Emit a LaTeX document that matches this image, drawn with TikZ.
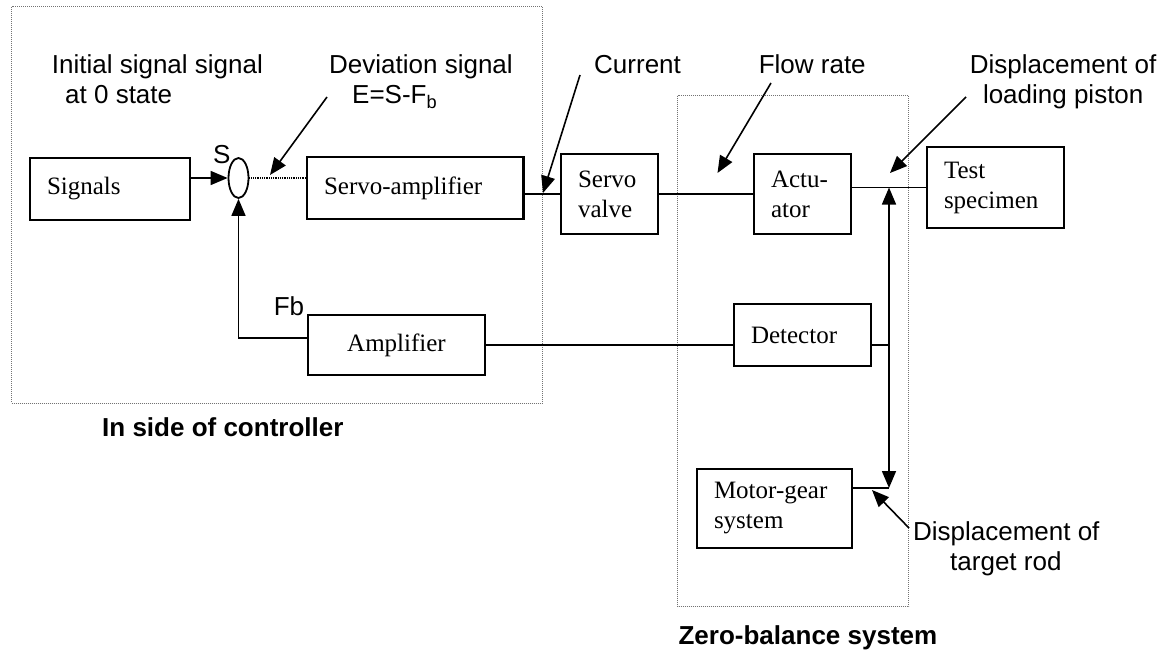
\documentclass[tikz,border=0pt]{standalone}
\usepackage{fontspec}
\setmainfont{Liberation Sans}
\newfontfamily\boxfont{Liberation Serif}
\usetikzlibrary{arrows.meta,shapes.geometric,calc}
\begin{document}
\begin{tikzpicture}[x=1pt,y=-1pt,
  lbl/.style={font=\fontsize{26}{31}\selectfont, inner sep=0pt, anchor=base west},
  blbl/.style={font=\fontsize{26}{31}\selectfont\bfseries, inner sep=0pt, anchor=base west},
  box/.style={draw, line width=2.2pt, inner xsep=17pt, inner ysep=0pt, align=left, font=\boxfont\fontsize{25}{30}\selectfont},
  conn/.style={line width=1.6pt},
  tip/.tip={Triangle[length=17pt,width=14pt]},
  arr/.style={conn, -tip},
  zone/.style={draw=black!55, line width=1pt, dash pattern=on 1pt off 1pt},
]
\fill[white] (0,0) rectangle (1165,650);
\useasboundingbox (0,0) rectangle (1165,650);

% dotted zones
\draw[zone] (11.5,7) rectangle (542.7,403);
\draw[zone] (677.6,95.7) rectangle (908.8,606.7);

% boxes
\node[box, text width=126pt, minimum height=62pt] (sig) at (110,189) {Signals};
\node[box, text width=182.5pt, minimum height=62pt] (samp) at (415.25,188) {Servo-amplifier};
\node[box, text width=143pt, minimum height=60pt, align=center] (amp) at (396.5,345) {Amplifier};
\node[box, text width=63pt, minimum height=80pt] (valve) at (609.5,194) {Servo\\valve};
\node[box, text width=63pt, minimum height=80pt] (act) at (802.5,194) {Actu-\\ator};
\node[box, text width=103pt, minimum height=81pt] (test) at (995.5,187.5) {Test\\specimen};
\node[box, text width=103pt, minimum height=62pt] (det) at (802.5,335) {Detector};
\node[box, text width=121pt, minimum height=79pt] (mg) at (774.5,508.5) {Motor-gear\\system};
\node[draw, ellipse, line width=1.8pt, minimum width=20pt, minimum height=40pt, inner sep=0pt] (sum) at (238.5,178) {};

% junctions
\coordinate (jt) at (889,187.5);
\coordinate (jb) at (889,488);

% connectors
\draw[arr] (sig.east |- sum.west) -- (sum.west);
\draw[line width=1.8pt, dash pattern=on 1pt off 0.8pt] (sum.east) -- (samp.west |- sum.east);
\draw[conn] (samp.east |- valve.west) -- (valve.west);
\draw[conn] (valve.east) -- (act.west);
\draw[conn] (act.east |- test.west) -- (test.west);
\draw[conn, tip-tip] (jt) -- (jb);
\draw[conn] (amp.east) -- (det.west |- amp.east);
\draw[conn] (det.east |- amp.east) -- (jt |- amp.east);
\draw[conn] (mg.east |- jb) -- (jb);
\draw[arr] ([yshift=7pt]amp.west) -| (sum.south);

% labels
\node[lbl] (init1) at (51.7,74) {Initial signal signal};
\node[lbl] (init2) at (65,104) {at 0 state};
\node[lbl] (dev1) at (329,74) {Deviation signal};
\node[lbl] (dev2) at (352,104) {E=S-F\textsubscript{b}};
\node[lbl] (slbl) at (213,164) {S};
\node[lbl] (fblbl) at (273.6,315) {Fb};
\node[lbl] (cur) at (594,74) {Current};
\node[lbl] (flow) at (758.6,74) {Flow rate};
\node[lbl] (lp1) at (969.7,74) {Displacement of};
\node[lbl] (lp2) at (982.8,104) {loading piston};
\node[lbl] (tr1) at (912.9,540) {Displacement of};
\node[lbl] (tr2) at (950,570) {target rod};
\node[blbl] (ctl) at (102,436.7) {In side of controller};
\node[blbl] (zbs) at (678.4,644) {Zero-balance system};

% label arrows
\coordinate (devs) at (327,97); \coordinate (devt) at (270,175);
\draw[arr] (devs) -- (devt);
\coordinate (curs) at (580,75); \coordinate (curt) at (543,193);
\draw[arr] (curs) -- (curt);
\coordinate (flows) at (771,83); \coordinate (flowt) at (717.5,173);
\draw[arr] (flows) -- (flowt);
\coordinate (lps) at (966,97); \coordinate (lpt) at (890,173);
\draw[arr] (lps) -- (lpt);
\coordinate (trs) at (909,528); \coordinate (trt) at (872,490);
\draw[arr] (trs) -- (trt);
\end{tikzpicture}
\end{document}
